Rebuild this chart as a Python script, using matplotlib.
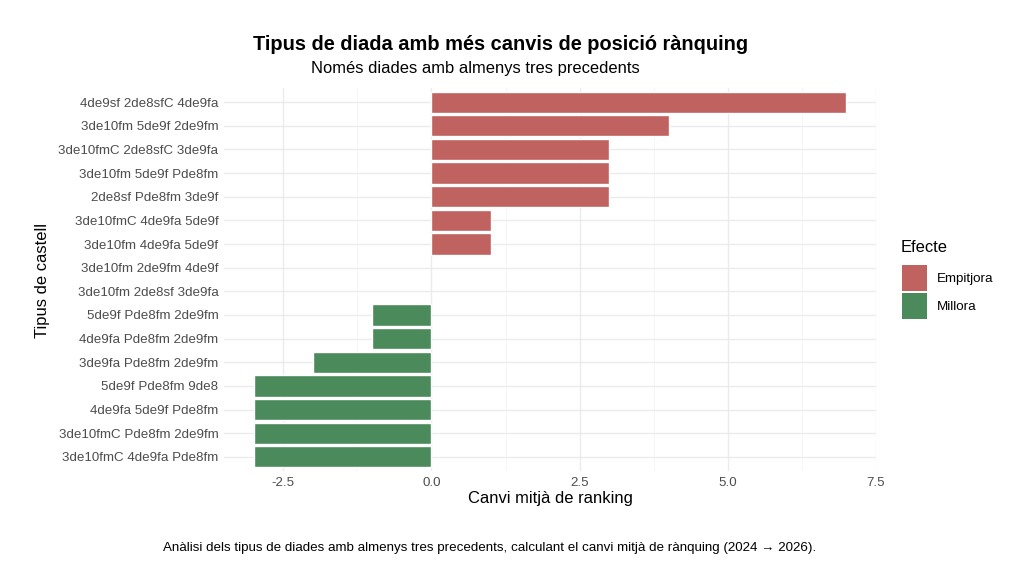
import matplotlib
matplotlib.use("Agg")
import matplotlib.pyplot as plt
from matplotlib.patches import Patch
from matplotlib.ticker import MultipleLocator

plt.rcParams['font.family'] = ['Liberation Sans', 'DejaVu Sans']

castells = ['4de9sf 2de8sfC 4de9fa', '3de10fm 5de9f 2de9fm', '3de10fmC 2de8sfC 3de9fa',
            '3de10fm 5de9f Pde8fm', '2de8sf Pde8fm 3de9f', '3de10fmC 4de9fa 5de9f',
            '3de10fm 4de9fa 5de9f', '3de10fm 2de9fm 4de9f', '3de10fm 2de8sf 3de9fa',
            '5de9f Pde8fm 2de9fm', '4de9fa Pde8fm 2de9fm', '3de9fa Pde8fm 2de9fm',
            '5de9f Pde8fm 9de8', '4de9fa 5de9f Pde8fm', '3de10fmC Pde8fm 2de9fm',
            '3de10fmC 4de9fa Pde8fm']
canvi = [7, 4, 3, 3, 3, 1, 1, 0, 0, -1, -1, -2, -3, -3, -3, -3]

color_emp = '#C0625F'
color_mil = '#4A8A5B'

fig = plt.figure(figsize=(10.24, 5.69), dpi=100)
ax = fig.add_axes([224/1024, 1-471/569, (876-224)/1024, (471-88)/569])

n = len(castells)
ypos = list(range(n - 1, -1, -1))
colors = [color_emp if v > 0 else color_mil for v in canvi]
widths = [1.0 if v != 0 else 0 for v in canvi]
ax.barh(ypos, canvi, height=0.9, color=colors, edgecolor='white', linewidth=widths, zorder=3)

ax.set_xlim(-3.5, 7.5)
ax.set_ylim(-0.6, n - 0.4)
ax.xaxis.set_minor_locator(MultipleLocator(1.25))
ax.set_xticks([-2.5, 0, 2.5, 5, 7.5])
ax.set_xticklabels(['-2.5', '0.0', '2.5', '5.0', '7.5'])
ax.set_yticks(ypos)
ax.set_yticklabels(castells)
ax.grid(True, which='major', color='#EBEBEB', linewidth=1.0, zorder=0)
ax.grid(True, which='minor', axis='x', color='#F4F4F4', linewidth=0.6, zorder=0)
ax.tick_params(which='both', length=0, labelsize=9.6, labelcolor='#4D4D4D', pad=4)
for s in ax.spines.values():
    s.set_visible(False)

ax.set_xlabel('Canvi mitjà de ranking', fontsize=11.9, labelpad=2)
fig.text(42/1024, 1-280/569, 'Tipus de castell', rotation=90, fontsize=11.9,
         ha='center', va='center')

fig.text(501/1024, 1-44/569, 'Tipus de diada amb més canvis de posició rànquing',
         fontsize=14.4, fontweight='bold', ha='center', va='center')
fig.text(475/1024, 1-69/569, 'Només diades amb almenys tres precedents',
         fontsize=11.9, ha='center', va='center')
fig.text(490/1024, 1-548/569,
         'Anàlisi dels tipus de diades amb almenys tres precedents, calculant el canvi mitjà de rànquing (2024 → 2026).',
         fontsize=9.6, ha='center', va='center')

# legend: title as separate text to get ggplot-like spacing
fig.text(901/1024, 1-247/569, 'Efecte', fontsize=11.9, ha='left', va='center')
handles = [Patch(facecolor=color_emp, edgecolor='none', label='Empitjora'),
           Patch(facecolor=color_mil, edgecolor='none', label='Millora')]
leg = fig.legend(handles=handles, loc='upper left',
                 bbox_to_anchor=(902/1024, 1-265/569), frameon=False,
                 fontsize=9.6, handlelength=1.85, handleheight=2.6,
                 handletextpad=0.75, labelspacing=0.15, borderaxespad=0, borderpad=0)

fig.savefig('out.png', dpi=100)
